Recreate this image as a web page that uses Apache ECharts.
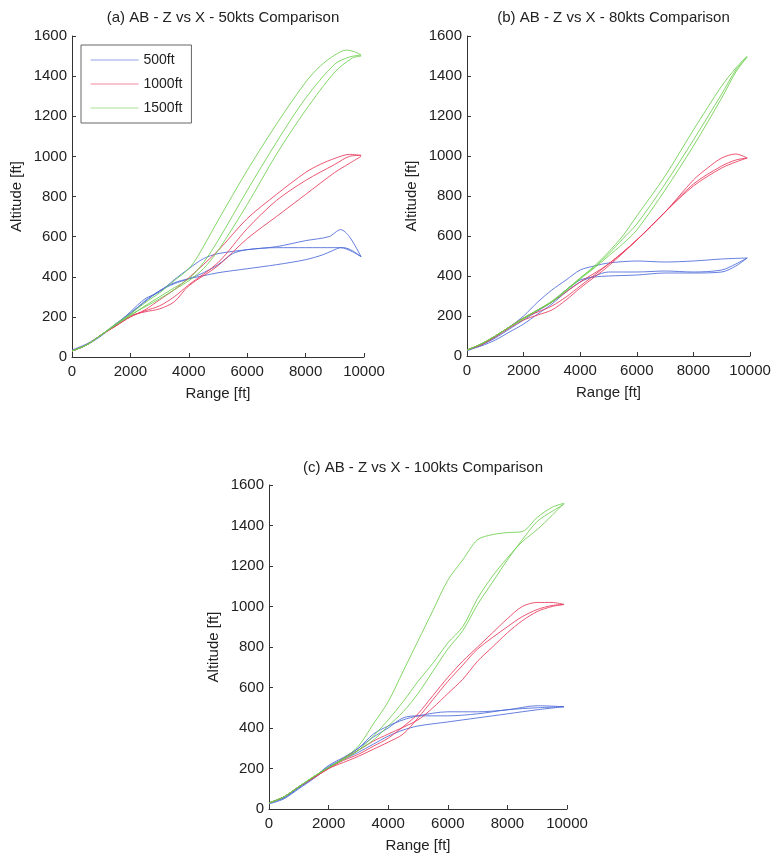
<!DOCTYPE html>
<html>
<head>
<meta charset="utf-8">
<script src="https://cdn.jsdelivr.net/npm/echarts@6/dist/echarts.min.js"></script>
<style>
  html, body { margin: 0; padding: 0; background: #fff; }
  #main { width: 784px; height: 859px; }
</style>
</head>
<body>
<div id="main"></div>
<script>
// tick labels
const xTicks = [0, 2000, 4000, 6000, 8000, 10000];
const yTicks = [0, 200, 400, 600, 800, 1000, 1200, 1400, 1600];
const targets = ['500ft', '1000ft', '1500ft'];
const titles = [
  '(a) AB - Z vs X - 50kts Comparison',
  '(b) AB - Z vs X - 80kts Comparison',
  '(c) AB - Z vs X - 100kts Comparison'
];

// (a) 50kts - three runs per target altitude, [range, altitude]
const a500 = [
  [[0,30],[500,60],[1000,110],[1500,160],[2000,225],[2500,290],[3000,325],[3500,385],[4000,440],[4500,490],[5000,515],[6000,535],[7000,550],[8000,580],[8800,600],[9200,635],[9500,600],[9900,500]],
  [[0,35],[500,65],[1000,110],[1500,165],[2000,215],[2500,280],[3000,330],[3500,365],[4000,390],[4500,420],[5000,460],[5500,515],[6000,535],[7000,545],[8000,545],[9000,545],[9300,545],[9600,530],[9900,500]],
  [[0,30],[500,60],[1000,105],[1500,165],[2000,220],[2500,275],[3000,330],[3500,370],[4000,390],[4500,405],[5000,420],[6000,440],[7000,460],[8000,485],[8600,510],[9000,535],[9200,545],[9600,525],[9900,500]]
];
const a1000 = [
  [[0,30],[500,60],[1000,110],[1500,155],[2000,200],[2500,235],[3000,285],[3500,335],[4000,395],[5000,530],[6000,690],[7000,810],[8000,920],[8500,960],[9000,990],[9500,1010],[9900,1005]],
  [[0,30],[500,60],[1000,110],[1500,155],[2000,200],[2500,230],[3000,255],[3500,300],[4000,360],[5000,470],[6000,640],[7000,780],[8000,880],[9000,960],[9500,1000],[9900,1005]],
  [[0,30],[500,60],[1000,110],[1500,155],[2000,205],[2500,225],[3000,240],[3500,275],[4000,355],[5000,455],[6000,590],[7000,700],[8000,810],[9000,920],[9500,965],[9900,1000]]
];
const a1500 = [
  [[0,30],[500,60],[1000,110],[1500,165],[2000,215],[2500,270],[3000,320],[3500,380],[4000,440],[4300,500],[5000,680],[6000,930],[7000,1160],[8000,1370],[8500,1450],[9000,1505],[9400,1530],[9700,1520],[9900,1505]],
  [[0,30],[500,60],[1000,110],[1500,160],[2000,205],[2500,255],[3000,300],[3500,345],[4000,390],[4500,470],[5000,580],[6000,830],[7000,1070],[8000,1290],[9000,1460],[9500,1495],[9900,1505]],
  [[0,30],[500,60],[1000,110],[1500,160],[2000,210],[2500,250],[3000,290],[3500,335],[4000,380],[4500,440],[5000,530],[6000,760],[7000,1010],[8000,1230],[9000,1420],[9600,1490],[9900,1500]]
];

// (b) 80kts
const b500 = [
  [[0,25],[500,55],[1000,95],[1500,145],[2000,200],[2500,270],[3000,330],[3500,380],[4000,430],[4500,450],[5000,465],[6000,475],[7000,470],[8000,475],[9000,485],[9900,490]],
  [[0,30],[500,50],[1000,80],[1500,120],[2000,160],[2500,210],[3000,260],[3500,320],[4000,370],[4500,400],[5000,420],[6000,420],[7000,425],[8000,420],[9000,430],[9500,460],[9900,490]],
  [[0,30],[500,55],[1000,90],[1500,135],[2000,180],[2500,225],[3000,270],[3500,330],[4000,380],[4500,395],[5000,400],[6000,405],[7000,415],[8000,415],[9000,420],[9500,450],[9900,490]]
];
const b1000 = [
  [[0,30],[500,60],[1000,100],[1500,145],[2000,190],[2500,220],[3000,250],[3500,295],[4000,350],[5000,460],[6000,580],[7000,720],[8000,880],[8500,940],[9000,990],[9500,1010],[9900,990]],
  [[0,30],[500,60],[1000,100],[1500,145],[2000,190],[2500,230],[3000,270],[3500,320],[4000,370],[5000,460],[6000,580],[7000,720],[8000,860],[9000,950],[9500,980],[9900,990]],
  [[0,30],[500,55],[1000,95],[1500,140],[2000,180],[2500,205],[3000,230],[3500,280],[4000,340],[5000,450],[6000,580],[7000,720],[8000,850],[9000,940],[9500,970],[9900,990]]
];
const b1500 = [
  [[0,30],[500,60],[1000,100],[1500,145],[2000,190],[2500,230],[3000,270],[3500,330],[4000,390],[4500,450],[5000,520],[5500,600],[6000,700],[7000,900],[8000,1130],[9000,1350],[9500,1440],[9900,1500]],
  [[0,30],[500,60],[1000,100],[1500,145],[2000,190],[2500,230],[3000,275],[3500,330],[4000,390],[4500,445],[5000,510],[5500,585],[6000,660],[7000,860],[8000,1080],[9000,1310],[9500,1430],[9900,1495]],
  [[0,30],[500,60],[1000,100],[1500,145],[2000,185],[2500,230],[3000,270],[3500,325],[4000,385],[4500,440],[5000,500],[5500,560],[6000,630],[7000,830],[8000,1050],[9000,1290],[9500,1420],[9900,1495]]
];

// (c) 100kts
const c500 = [
  [[0,30],[500,55],[1000,105],[1500,155],[2000,215],[2500,255],[3000,300],[3500,370],[4000,410],[4500,440],[5000,460],[6000,480],[7000,480],[8000,490],[9000,510],[9900,505]],
  [[0,25],[500,50],[1000,100],[1500,150],[2000,205],[2500,250],[3000,300],[3500,355],[4000,400],[4500,450],[5000,460],[6000,460],[7000,470],[8000,490],[9000,500],[9900,505]],
  [[0,30],[500,55],[1000,105],[1500,155],[2000,210],[2500,245],[3000,280],[3500,320],[4000,360],[4500,390],[5000,410],[6000,430],[7000,450],[8000,470],[9000,490],[9900,505]]
];
const c1000 = [
  [[0,30],[500,60],[1000,110],[1500,155],[2000,200],[2500,240],[3000,270],[3500,310],[4000,350],[4700,430],[5000,470],[5500,560],[6000,650],[6500,730],[7000,800],[7500,870],[8000,940],[8500,1000],[9000,1020],[9500,1020],[9900,1010]],
  [[0,30],[500,60],[1000,110],[1500,155],[2000,200],[2500,230],[3000,260],[3500,295],[4000,330],[4500,370],[5000,450],[5500,540],[6000,630],[6500,710],[7000,790],[8000,900],[8500,950],[9000,985],[9500,1005],[9900,1010]],
  [[0,30],[500,60],[1000,110],[1500,155],[2000,200],[2500,250],[3000,290],[3500,335],[4000,370],[5000,440],[5500,500],[6000,570],[6500,640],[7000,730],[7500,800],[8000,870],[8500,930],[9000,975],[9500,1000],[9900,1010]]
];
const c1500 = [
  [[0,30],[500,60],[1000,110],[1500,160],[2000,205],[2500,250],[3000,310],[3500,420],[4000,530],[4500,680],[5000,830],[5500,980],[6000,1130],[6500,1230],[7000,1330],[7500,1355],[8000,1365],[8500,1370],[9000,1440],[9500,1490],[9900,1510]],
  [[0,30],[500,60],[1000,110],[1500,160],[2000,205],[2500,245],[3000,290],[3500,360],[4000,440],[4500,530],[5000,630],[5500,720],[6000,820],[6500,900],[7000,1040],[7500,1150],[8000,1240],[8500,1320],[9000,1380],[9500,1450],[9900,1510]],
  [[0,30],[500,60],[1000,110],[1500,160],[2000,205],[2500,245],[3000,290],[3500,340],[4000,410],[4500,480],[5000,570],[5500,680],[6000,790],[6500,880],[7000,1010],[7500,1120],[8000,1230],[8500,1330],[9000,1420],[9500,1470],[9900,1505]]
];

const colors = ['#4a68d8', '#e8385a', '#6ccf4c'];
const panels = [
  [a500, a1000, a1500],
  [b500, b1000, b1500],
  [c500, c1000, c1500]
];

const grids = [
  { left: 72, top: 36, width: 292, height: 321 },
  { left: 467, top: 36, width: 283, height: 320 },
  { left: 269, top: 485, width: 298, height: 324 }
];

const font = 'Liberation Sans, Arial, sans-serif';
const txt = { color: '#222', fontFamily: font, fontSize: 14 };
const plain = v => String(v);

const xAxes = grids.map((g, i) => ({
  type: 'value', gridIndex: i, min: xTicks[0], max: xTicks[xTicks.length - 1], interval: 2000,
  name: 'Range [ft]', nameLocation: 'middle', nameGap: 29,
  nameTextStyle: { ...txt, fontSize: 15 },
  axisLine: { show: true, lineStyle: { color: '#333', width: 1 } },
  axisTick: { show: true, inside: true, length: 4, lineStyle: { color: '#333' } },
  axisLabel: { ...txt, fontSize: 15, margin: 7, formatter: plain },
  splitLine: { show: false }
}));
const yAxes = grids.map((g, i) => ({
  type: 'value', gridIndex: i, min: yTicks[0], max: yTicks[yTicks.length - 1], interval: 200,
  name: 'Altitude [ft]', nameLocation: 'middle', nameGap: 48,
  nameTextStyle: { ...txt, fontSize: 15 },
  axisLine: { show: true, lineStyle: { color: '#333', width: 1 } },
  axisTick: { show: true, inside: true, length: 4, lineStyle: { color: '#333' } },
  axisLabel: { ...txt, fontSize: 15, margin: 5, formatter: plain },
  splitLine: { show: false }
}));

const series = [];
panels.forEach((runsByTarget, gi) => {
  runsByTarget.forEach((runs, ti) => {
    runs.forEach(run => {
      series.push({
        type: 'line', name: targets[ti],
        xAxisIndex: gi, yAxisIndex: gi,
        data: run, symbol: 'none', smooth: 0.3,
        lineStyle: { color: colors[ti], width: 1, opacity: 0.85 },
        itemStyle: { color: colors[ti] },
        silent: true, animation: false
      });
    });
  });
});

const chart = echarts.init(document.getElementById('main'));
chart.setOption({
  backgroundColor: '#fff',
  animation: false,
  title: titles.map((t, i) => ({
    text: t,
    left: grids[i].left + grids[i].width / 2,
    textAlign: 'center',
    top: i < 2 ? 5 : 455,
    textStyle: { ...txt, fontSize: 15, fontWeight: 'normal' }
  })),
  legend: {
    data: targets, orient: 'vertical',
    left: 81, top: 45,
    itemWidth: 48, itemHeight: 10, itemGap: 10,
    padding: [8, 9, 8, 9],
    borderColor: '#666', borderWidth: 1,
    itemStyle: { opacity: 0 },
    lineStyle: { width: 1, opacity: 0.6 },
    textStyle: { ...txt, fontSize: 14 },
    selectedMode: false
  },
  grid: grids.map(g => ({ ...g, containLabel: false })),
  xAxis: xAxes,
  yAxis: yAxes,
  series: series
});
</script>
</body>
</html>
